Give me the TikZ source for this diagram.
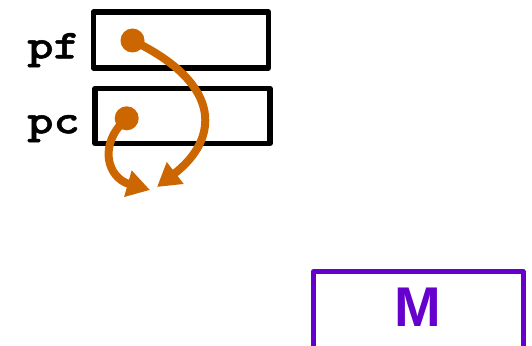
\documentclass[tikz,border=0pt]{standalone}
\usepackage{fontspec}
\setmainfont{Liberation Sans}
\newfontfamily\codefont{lmmonolt10-bold}[Extension=.otf, FakeStretch=1.22, FakeBold=1.2]
\usetikzlibrary{arrows.meta}

\definecolor{ptrorange}{HTML}{CC6600}
\definecolor{mempurple}{HTML}{6600CC}

\tikzset{
  cell/.style={draw=black, line width=5.5pt, line join=round, minimum width=175pt, minimum height=56pt, inner sep=0pt},
  varname/.style={font=\codefont\fontsize{41}{43}\selectfont, inner sep=0pt, anchor=base east},
  ptrdot/.style={circle, fill=ptrorange, minimum size=24pt, inner sep=0pt},
  ptrarrow/.style={draw=ptrorange, line width=8pt, -{Triangle[length=23pt, width=26pt]}},
}

\begin{document}
\begin{tikzpicture}[x=1pt, y=-1pt]
        \useasboundingbox (0,0) rectangle (532,345);

        % Pointer cells
        \node[cell] (pfbox) at (181,40) {};
        \node[varname] (pflabel) at (80,58.3) {pf};

        \node[cell, minimum height=55pt] (pcbox) at (182.5,116) {};
        \node[varname] (pclabel) at (80,133.3) {pc};

        % Pointer values
        \node[ptrdot] (pfdot) at (132.5,40.5) {};
        \node[ptrdot] (pcdot) at (126.7,118.3) {};

        % Where they point
        \coordinate (pftarget) at (157,187);
        \coordinate (pctarget) at (150,190);

        \draw[ptrarrow] (pfdot.center) .. controls (225,85) and (218,140) .. (pftarget);
        \draw[ptrarrow] (pcdot.center) .. controls (97,145) and (108,178) .. (pctarget);

        % Memory block
        \node[draw=mempurple, line width=5pt, line join=round, anchor=north west, minimum width=209.5pt, minimum height=140pt] (mbox) at (311,269) {};
        \node[text=mempurple, font=\bfseries\fontsize{56}{58}\selectfont, inner sep=0pt] (mlabel) at (417.5,307) {M};
\end{tikzpicture}
\end{document}
